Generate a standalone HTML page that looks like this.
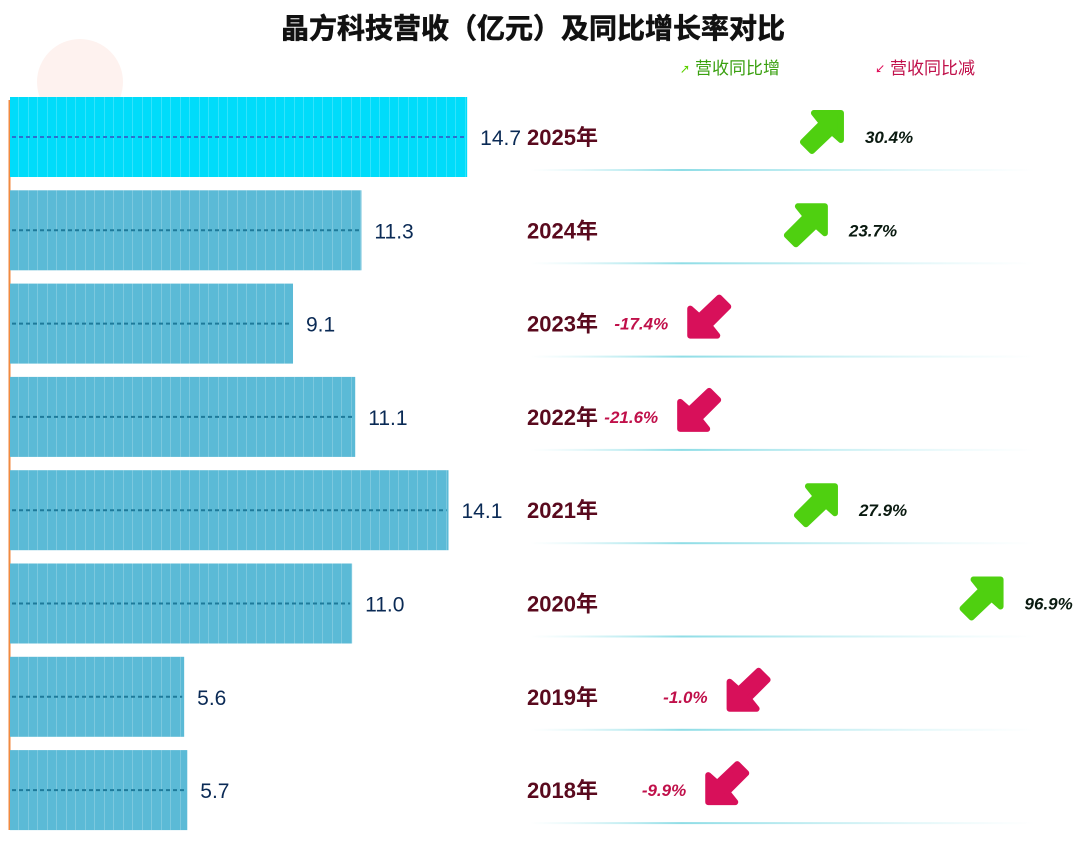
<!DOCTYPE html>
<html><head><meta charset="utf-8">
<style>
body{margin:0;width:1080px;height:843px;background:#fff;overflow:hidden;font-family:"Liberation Sans","Noto Sans CJK SC",sans-serif;}
#c{position:absolute;left:0;top:0}
</style></head>
<body>
<svg id="c" width="1080" height="843">
<defs>
<linearGradient id="sep" x1="0" x2="1"><stop offset="0" stop-color="#bdeef2" stop-opacity="0"/><stop offset="0.3" stop-color="#8fdde6"/><stop offset="1" stop-color="#bdeef2" stop-opacity="0"/></linearGradient>
<pattern id="stripe" width="9.5" height="10" patternUnits="userSpaceOnUse"><rect x="9" width="0.6" height="10" fill="#fff" opacity="0.4"/></pattern>
</defs>
<circle cx="80" cy="82" r="43" fill="#fdece8" opacity="0.7"/>
<text x="533" y="38" text-anchor="middle" font-size="28" font-weight="bold" fill="#111" stroke="#111" stroke-width="0.6" font-family="Liberation Sans,Noto Sans CJK SC,sans-serif">晶方科技营收（亿元）及同比增长率对比</text>
<g><text x="680" y="73" font-size="10" font-weight="bold" fill="#5cd000">↗</text><text x="695" y="74" font-size="17" fill="#3aa010">营收同比增</text></g>
<g><text x="875" y="73" font-size="10" font-weight="bold" fill="#e0105a">↙</text><text x="890" y="74" font-size="17" fill="#c0104a">营收同比减</text></g>
<line x1="9.5" y1="100" x2="9.5" y2="830" stroke="#f08a40" stroke-width="2"/>
<g id="rows"></g>
</svg>
<script>
const years = ["2025年","2024年","2023年","2022年","2021年","2020年","2019年","2018年"];
const revenue = [14.7,11.3,9.1,11.1,14.1,11.0,5.6,5.7];
const growth = [30.4,23.7,-17.4,-21.6,27.9,96.9,-1.0,-9.9];
const NS="http://www.w3.org/2000/svg";
const g=document.getElementById('rows');
const xs=v=>v*31.1;
const xp=p=>750+2.4*p;
function mk(t,a){const e=document.createElementNS(NS,t);for(const k in a)e.setAttribute(k,a[k]);g.appendChild(e);return e;}
years.forEach((y,i)=>{
  const top=97+i*93.3, cy=top+40;
  const w=xs(revenue[i]);
  const bar=mk('rect',{x:10,y:top,width:w,height:80,fill:i===0?'#00dcfa':'#5bbad6'});
  
  
  const st=mk('rect',{x:10,y:top,width:w,height:80,fill:'url(#stripe)'});
  
  
  const dl=mk('line',{x1:12,y1:cy,x2:8+w,y2:cy,stroke:i===0?'#2a70d0':'#1e7a9a','stroke-width':2,'stroke-dasharray':'4 3'});
  
  
  const vl=mk('text',{x:w+23,y:cy+8,'font-size':21,fill:'#0a2a55'});vl.textContent=revenue[i].toFixed(1);
  
  
  const yl=mk('text',{x:527,y:cy+8,'font-size':22,'font-weight':'bold',fill:'#5a0a1e'});yl.textContent=y;
  
  
  const sp=mk('rect',{x:530,y:top+72,width:505,height:2,fill:'url(#sep)'});
  
  
  const p=growth[i], cx=xp(p), up=p>=0, col=up?'#4fd010':'#d8105a';
  const ar=mk('g',{transform:`translate(${cx},${cy-6})`+(up?'':' rotate(180)')});
  
  
  const a=document.createElementNS(NS,'path');
  a.setAttribute('d','M-11,20 L-20,11 L-1,-8 L-9,-18 L18,-18 L18,9 L9,1 Z');
  a.setAttribute('fill',col);a.setAttribute('stroke',col);a.setAttribute('stroke-width',6);a.setAttribute('stroke-linejoin','round');
  ar.appendChild(a);
  const pl=mk('text',{x:up?cx+42:cx-40,y:cy+6,'font-size':17,'font-weight':'bold','font-style':'italic','text-anchor':up?'start':'end',fill:up?'#0a1a10':'#c0104a'});
  pl.textContent=p.toFixed(1)+'%';
  
  
});
</script>
</body></html>
